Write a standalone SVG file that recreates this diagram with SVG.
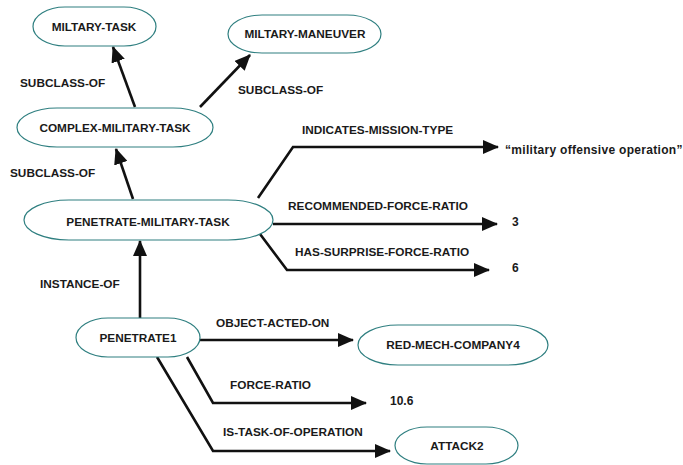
<svg xmlns="http://www.w3.org/2000/svg" width="683" height="465" viewBox="0 0 683 465">
<style>
.bg{fill:#ffffff}
.node rect{fill:#ffffff;stroke:#2f7f80;stroke-width:1.2}
.node text{font-family:"Liberation Sans",Arial,sans-serif;font-weight:bold;font-size:11.8px;fill:#1a1a1a;text-anchor:middle}
.edge{fill:none;stroke:#111111;stroke-width:2.6;stroke-linejoin:miter}
.lbl{font-family:"Liberation Sans",Arial,sans-serif;font-weight:bold;font-size:11.8px;fill:#1a1a1a}
.val{font-family:"Liberation Sans",Arial,sans-serif;font-weight:bold;font-size:12px;fill:#1a1a1a}
</style>
<defs>
<marker id="ah" markerUnits="userSpaceOnUse" markerWidth="16" markerHeight="14" refX="15" refY="7" orient="auto">
<path d="M0,0 L16,7 L0,14 z" fill="#111111"/>
</marker>
</defs>
<rect class="bg" x="0" y="0" width="683" height="465"/>
<g id="connectors">
<path class="edge" d="M135,107 L113,47" marker-end="url(#ah)"/>
<path class="edge" d="M200,107 L250,55" marker-end="url(#ah)"/>
<path class="edge" d="M133,199 L116,149" marker-end="url(#ah)"/>
<path class="edge" d="M140,318 L140,241" marker-end="url(#ah)"/>
<path class="edge" d="M258,198 L293,147 L498,147" marker-end="url(#ah)"/>
<path class="edge" d="M273,224 L497,224" marker-end="url(#ah)"/>
<path class="edge" d="M260,234 L287,270 L489,270" marker-end="url(#ah)"/>
<path class="edge" d="M200,340 L353,340" marker-end="url(#ah)"/>
<path class="edge" d="M187,357 L213,403 L366,403" marker-end="url(#ah)"/>
<path class="edge" d="M157,357 L213,451 L390,451" marker-end="url(#ah)"/>
<text class="lbl" x="20" y="87">SUBCLASS-OF</text>
<text class="lbl" x="238" y="94">SUBCLASS-OF</text>
<text class="lbl" x="10" y="177">SUBCLASS-OF</text>
<text class="lbl" x="40" y="288">INSTANCE-OF</text>
<text class="lbl" x="302" y="134">INDICATES-MISSION-TYPE</text>
<text class="lbl" x="288" y="210">RECOMMENDED-FORCE-RATIO</text>
<text class="lbl" x="295" y="256">HAS-SURPRISE-FORCE-RATIO</text>
<text class="lbl" x="216" y="327">OBJECT-ACTED-ON</text>
<text class="lbl" x="230" y="389">FORCE-RATIO</text>
<text class="lbl" x="223" y="436">IS-TASK-OF-OPERATION</text>
</g>
<g id="n-military-task" class="node">
<rect x="33" y="7" width="123" height="39" rx="32" ry="19.5"/>
<text x="94" y="31">MILTARY-TASK</text>
</g>
<g id="n-military-maneuver" class="node">
<rect x="228" y="15" width="153" height="38" rx="34" ry="19"/>
<text x="305" y="38">MILTARY-MANEUVER</text>
</g>
<g id="n-complex-military-task" class="node">
<rect x="17" y="108" width="196" height="39" rx="40" ry="19.5"/>
<text x="115" y="132">COMPLEX-MILITARY-TASK</text>
</g>
<g id="n-penetrate-military-task" class="node">
<rect x="24" y="200" width="249" height="40" rx="45" ry="20"/>
<text x="148" y="226">PENETRATE-MILITARY-TASK</text>
</g>
<g id="n-penetrate1" class="node">
<rect x="76" y="318" width="124" height="39" rx="32" ry="19.5"/>
<text x="138" y="342">PENETRATE1</text>
</g>
<g id="n-red-mech-company4" class="node">
<rect x="358" y="325" width="190" height="40" rx="40" ry="20"/>
<text x="453" y="349">RED-MECH-COMPANY4</text>
</g>
<g id="n-attack2" class="node">
<rect x="395" y="427" width="123" height="37" rx="32" ry="18.5"/>
<text x="457" y="450">ATTACK2</text>
</g>
<g id="values">
<text class="val" x="505" y="154" letter-spacing="0.3">“military offensive operation”</text>
<text class="val" x="512" y="226">3</text>
<text class="val" x="512" y="272">6</text>
<text class="val" x="390" y="405">10.6</text>
</g>
</svg>
